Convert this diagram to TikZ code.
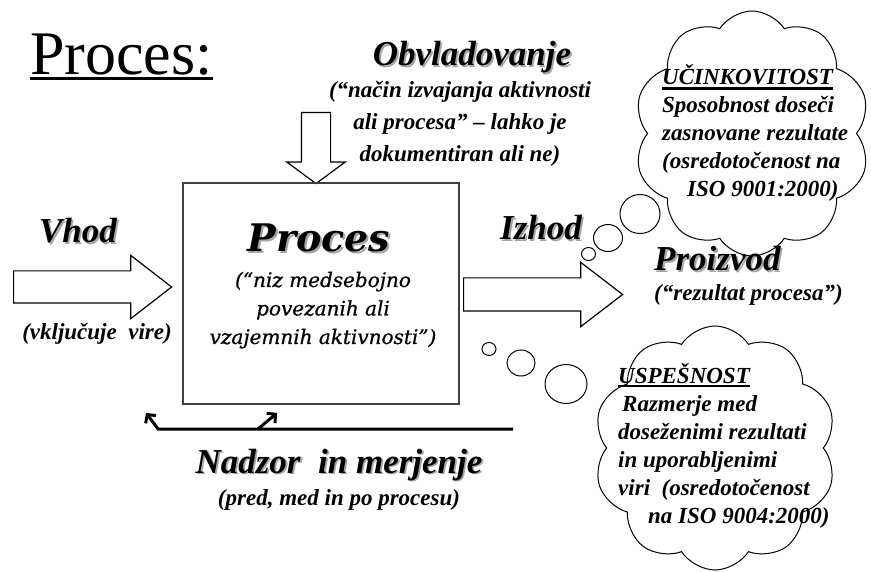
\documentclass[tikz,border=0pt]{standalone}
\usepackage{fontspec}
\setmainfont{Liberation Serif}
\newfontfamily\bookfont{DejaVu Serif}
\newfontfamily\booknote[FakeBold=0.8]{DejaVu Serif}
\usetikzlibrary{arrows.meta,positioning,shapes.arrows,shapes.symbols,shapes.geometric}

% text with a soft grey drop shadow
\newcommand{\shd}[1]{\makebox[0pt][l]{\hspace{1.8pt}\raisebox{-1.8pt}{\textcolor{black!35}{#1}}}#1}
% heavy underline
\newcommand{\thickul}[2][2.6pt]{\vtop{\hbox{#2}\kern1.6pt\hrule height #1}}

\begin{document}
\begin{tikzpicture}[x=1pt,y=-1pt,>=Stealth,
  head/.style={font=\fontsize{35}{40}\selectfont\bfseries\itshape,inner sep=0pt},
  note/.style={font=\fontsize{23}{32}\selectfont\bfseries\itshape,inner sep=0pt,align=center},
  cloudtxt/.style={font=\fontsize{23}{28}\selectfont\bfseries\itshape,inner sep=0pt,align=left},
  blockarrow/.style={single arrow,draw,line width=1.2pt,inner xsep=0pt},
  bubble/.style={ellipse,draw,line width=1pt,inner sep=0pt},
  thought/.style={cloud,draw,line width=1pt,cloud puffs=10,cloud puff arc=115,cloud ignores aspect,inner sep=0pt},
  fb/.style={line width=3pt,-{Straight Barb[length=6pt,width=13pt]}}]
\useasboundingbox (0,0) rectangle (871,572);

% title
\node[anchor=base west,inner sep=0pt,font=\fontsize{62}{62}\selectfont] (title) at (30,75) {\thickul[3pt]{Proces:}};

% control from above
\node[head,anchor=base] (obv) at (472,66) {\shd{Obvladovanje}};
\node[note,anchor=base] (obvnote) at (460,162) {(“način izvajanja aktivnosti\\ali procesa” – lahko je\\dokumentiran ali ne)};
\node[blockarrow,shape border rotate=270,minimum height=71pt,inner xsep=14pt,inner ysep=0pt,single arrow head extend=14.5pt,single arrow tip angle=107,anchor=tail] (ctrlarr) at (316,112) {};

% the process
\node[draw=black!75,line width=1.3pt,minimum width=276pt,minimum height=221pt,inner sep=0pt] (proc) at (321,293.5) {};
\node[anchor=base,inner sep=0pt,font=\bookfont\fontsize{38}{44}\selectfont\bfseries\itshape] (proctitle) at (319,252) {\shd{Proces}};
\node[anchor=base,inner sep=0pt,align=center,font=\booknote\fontsize{20}{28.5}\selectfont\itshape] (procnote) at (323,344) {(“niz medsebojno\\povezanih ali\\vzajemnih aktivnosti”)};

% input
\node[head,anchor=base] (vhod) at (78,243) {\shd{Vhod}};
\node[blockarrow,minimum height=158pt,inner ysep=15.5pt,single arrow head extend=15.5pt,single arrow tip angle=75.5,anchor=tail] (inarr) at (13,287) {};
\node[note,anchor=base] (vhodnote) at (97,340) {(vključuje\ \ vire)};

% output
\node[head,anchor=base west] (izhod) at (500,240) {\shd{Izhod}};
\node[blockarrow,minimum height=159pt,inner ysep=16pt,single arrow head extend=15.5pt,single arrow tip angle=75,anchor=tail] (outarr) at (463,294.5) {};
\node[head,anchor=base west] (proizvod) at (654,271) {\shd{Proizvod}};
\node[note,anchor=base west] (proiznote) at (654,301) {(“rezultat procesa”)};

% thought clouds
\node[thought,minimum width=236pt,minimum height=245pt] (effcloud) at (752,133.5) {};
\node[thought,minimum width=243pt,minimum height=244pt] (succloud) at (715,448) {};
\foreach \nm/\x/\y/\w/\h in {e1/588.5/254/14/13,e2/608/238/29/27,e3/640/214/40/39,s1/489/349/14/13,s2/521/363/28/26,s3/566/384/42/39}
  \node[bubble,minimum width=\w pt,minimum height=\h pt] (b\nm) at (\x,\y) {};
\node[cloudtxt,anchor=base west] (efftxt) at (662,197) {\thickul{\bfseries\itshape UČINKOVITOST}\\Sposobnost doseči\\zasnovane rezultate\\(osredotočenost na\\\hspace*{25pt}ISO 9001:2000)};
\node[cloudtxt,anchor=base west] (suctxt) at (618,523) {\thickul{\bfseries\itshape USPEŠNOST}\\\hspace*{4pt}Razmerje med\\doseženimi rezultati\\in uporabljenimi\\viri\ \ (osredotočenost\\\hspace*{30pt}na ISO 9004:2000)};

% monitoring feedback
\coordinate (fbR) at (513,429);
\coordinate (fbL) at (158,429);
\coordinate (fbLtip) at (146,413);
\coordinate (fbM) at (258,429);
\coordinate (fbMtip) at (277,413);
\draw[fb] (fbR) -- (fbL) -- (fbLtip);
\draw[fb] (fbM) -- (fbMtip);
\node[head,anchor=base] (nadzor) at (339,473) {\shd{Nadzor\ \ in merjenje}};
\node[note,anchor=base] (nadzornote) at (339,505) {(pred, med in po procesu)};
\end{tikzpicture}
\end{document}
